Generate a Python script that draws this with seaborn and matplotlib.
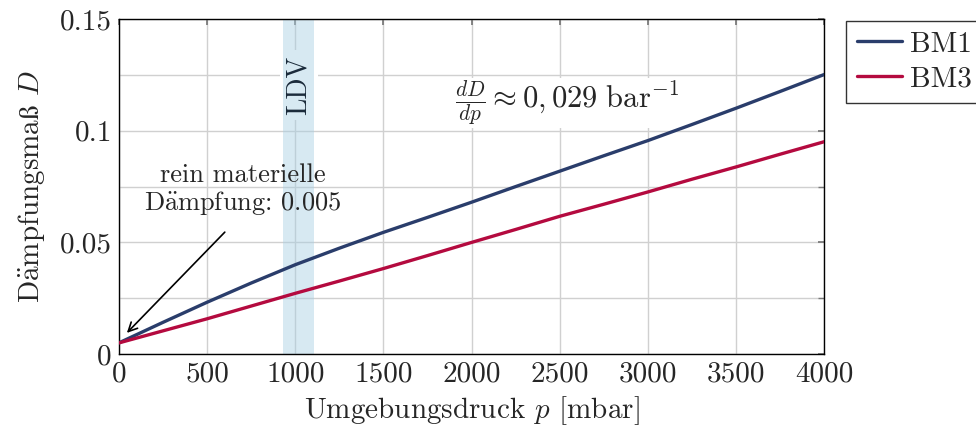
import pandas as pd
import matplotlib
matplotlib.use("Agg")
import matplotlib.pyplot as plt
import seaborn as sns
from matplotlib.ticker import MultipleLocator, FuncFormatter

# Ambient pressure [mbar] and damping ratio D of both beam models
pressure = [0, 250, 500, 750, 1000, 1250, 1500, 1750, 2000,
            2250, 2500, 2750, 3000, 3250, 3500, 3750, 4000]
bm1 = [0.0050, 0.0142, 0.0232, 0.0318, 0.0400, 0.0474, 0.0545, 0.0612, 0.0680,
       0.0750, 0.0819, 0.0888, 0.0956, 0.1028, 0.1101, 0.1176, 0.1252]
bm3 = [0.0050, 0.0104, 0.0158, 0.0215, 0.0272, 0.0327, 0.0383, 0.0441, 0.0500,
       0.0558, 0.0617, 0.0671, 0.0726, 0.0783, 0.0838, 0.0895, 0.0951]
series_names = ["BM1", "BM3"]
series_colors = ["#2a3d6b", "#b40a3f"]
ldv_range = (930, 1106)
material_damping = 0.005

df = pd.DataFrame({
    "p": pressure * 2,
    "D": bm1 + bm3,
    "Modell": [series_names[0]] * len(pressure) + [series_names[1]] * len(pressure),
})

sns.set_theme(style="white")
plt.rcParams["font.family"] = ["cmr10", "DejaVu Serif"]
plt.rcParams["mathtext.fontset"] = "cm"
plt.rcParams["axes.unicode_minus"] = False
plt.rcParams["axes.formatter.use_mathtext"] = True

FS = 21

fig = plt.figure(figsize=(9.76, 4.32), dpi=100)
ax = fig.add_axes([0.1217, 0.1803, 0.7230, 0.7757])

# LDV operating band: white knockout behind the label, then the tinted span
ldv_x, ldv_y = 1021, 0.1205
ax.text(ldv_x, ldv_y, "LDV", rotation=90, ha="center", va="center", fontsize=FS - 1,
        color="none", zorder=1.5,
        bbox=dict(boxstyle="square,pad=0.2", fc="white", ec="none"))
ax.axvspan(*ldv_range, color="#a8cfe3", alpha=0.45, lw=0, zorder=2)
ax.text(ldv_x, ldv_y, "LDV", rotation=90, ha="center", va="center", fontsize=FS - 1,
        color="#1a2a3a", zorder=3)

sns.lineplot(data=df, x="p", y="D", hue="Modell", palette=series_colors,
             linewidth=2.4, ax=ax, zorder=4)

ax.set_xlim(0, 4000)
ax.set_ylim(0, 0.15)
ax.xaxis.set_major_locator(MultipleLocator(500))
ax.yaxis.set_major_locator(MultipleLocator(0.05))
ax.yaxis.set_minor_locator(MultipleLocator(0.025))
ax.yaxis.set_major_formatter(FuncFormatter(lambda v, _: "0" if abs(v) < 1e-12 else f"{v:g}"))
ax.xaxis.set_major_formatter(FuncFormatter(lambda v, _: f"{v:.0f}"))
ax.grid(True, which="both", color="#d0d0d0", linewidth=1.0, zorder=0)
ax.set_axisbelow(True)
ax.tick_params(which="both", direction="in", top=True, right=True, length=4,
               color="#777777", labelsize=FS, pad=5)
for s in ax.spines.values():
    s.set_color("black")
    s.set_linewidth(1.0)

ax.set_xlabel(r"Umgebungsdruck $p$ [mbar]", fontsize=FS, labelpad=5)
ax.set_ylabel(r"D$\mathrm{\ddot{a}}$mpfungsma$\mathrm{\ss}$ $D$", fontsize=FS, labelpad=9)

# Note on the purely material damping at zero pressure
ax.text(705, 0.0612, "rein materielle\n" + r"D$\mathrm{\ddot{a}}$mpfung: " + f"{material_damping:.3f}",
        fontsize=FS - 2, ha="center", va="bottom", linespacing=1.1, zorder=5)
ax.annotate("", xy=(46, 0.0095), xytext=(601, 0.0546), zorder=5,
            arrowprops=dict(arrowstyle="->", color="black", lw=1.2,
                            shrinkA=0, shrinkB=0, mutation_scale=16))

# Slope label; its white box sits beneath the curves
ax.text(2539, 0.1124, r"$\frac{dD}{dp} \approx 0,029\ \mathrm{bar}^{-1}$",
        fontsize=FS + 1, ha="center", va="center", zorder=3.5,
        bbox=dict(boxstyle="square,pad=0.02", fc="white", ec="none"))

leg = ax.legend(title=None, loc="upper left", bbox_to_anchor=(1.031, 0.995),
                borderaxespad=0, fontsize=FS, frameon=True, fancybox=False,
                edgecolor="black", handlelength=1.55, borderpad=0.36,
                labelspacing=0.28, handletextpad=0.28)
leg.get_frame().set_linewidth(1.0)

fig.savefig("out.png", dpi=100)
